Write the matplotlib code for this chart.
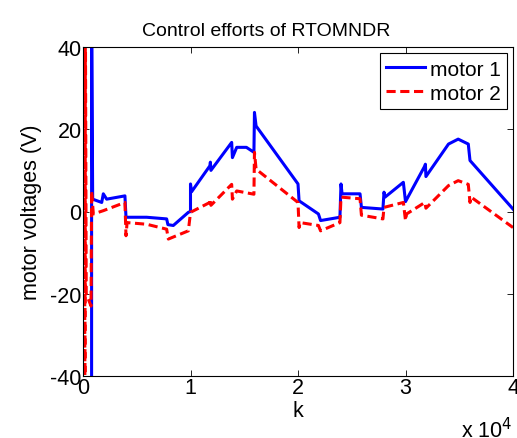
import matplotlib
matplotlib.use("Agg")
import matplotlib.pyplot as plt

plt.rcParams['font.family'] = ['Liberation Sans', 'DejaVu Sans']
plt.rcParams['axes.unicode_minus'] = False

k1 = [0, 800, 800, 900, 1740, 1890, 2200, 3900, 4000, 5920, 7780, 7900, 8400, 9800, 10000, 10000, 10100,
      11800, 11850, 11900, 13830, 13900, 14300, 15200, 15900, 15950, 16100,
      20000, 20100, 21900, 22100, 23900, 24000, 24100, 25770, 25900, 27900, 28000, 28100,
      29800, 30000, 31800, 31850, 31900, 34000, 34900, 35840, 36000, 40000]
m1 = [-50, -50, 50, 3.0, 2.2, 4.3, 3.0, 3.8, -1.4, -1.4, -1.8, -3.2, -3.4, -0.2, 0, 6.7, 4.8,
      11.1, 12.0, 10.0, 16.8, 13.1, 15.6, 15.6, 14.4, 24.1, 20.8,
      6.7, 2.6, -0.6, -2.2, -1.4, 6.7, 4.3, 4.3, 1.0, 0.6, 4.7, 3.5,
      7.1, 2.4, 11.1, 11.5, 8.5, 16.4, 17.6, 16.4, 12.4, 0.6]

k2 = [0, 60, 120, 180, 220, 300, 750, 800, 960, 1890, 3900, 4000, 4100, 5920, 7780, 7940, 9800, 10000,
      11800, 11850, 11900, 13830, 13900, 14300, 15900, 15950, 16100,
      20000, 20100, 20200, 21900, 22100, 23900, 24000, 25770, 25900, 27900, 28000,
      29800, 30000, 30100, 31800, 31900, 34000, 34900, 35840, 36000, 36100, 40000]
m2 = [50, -50, 50, -50, 50, -20, -23, 5, -0.6, 0.2, 2.2, -5.9, -2.7, -3.1, -4.3, -6.7, -4.7, -0.2,
      2.2, 3.0, 1.5, 6.6, 3.0, 5.0, 4.2, 14.4, 10.3,
      2.2, -3.9, -2.7, -3.4, -4.7, -2.7, 3.5, 3.1, -0.9, -1.8, 1.0,
      2.2, -2.2, -0.6, 2.2, 0.8, 6.3, 7.5, 6.6, 2.2, 3.5, -3.9]

fig = plt.figure(figsize=(5.17, 4.39), dpi=100)
ax = fig.add_axes([83/517, 1 - 377/439, 430/517, 329/439])
ax.plot(k1, m1, color='#0000ff', lw=2.2, label='motor 1')
ax.plot(k2, m2, color='#ff0000', lw=2.2, ls=(0, (3, 1.5)), label='motor 2')
ax.set_xlim(0, 40000)
ax.set_ylim(-40, 40)
ax.set_xticks([0, 10000, 20000, 30000, 40000])
ax.set_xticklabels(['0', '1', '2', '3', '4'])
ax.set_yticks([-40, -20, 0, 20, 40])
ax.tick_params(direction='in', top=True, right=True, labelsize=15.5, length=4, width=0.6, pad=1)
for s in ax.spines.values():
    s.set_linewidth(0.8)
ax.set_xlabel('k', fontsize=15.5, labelpad=1)
ax.set_ylabel('motor voltages (V)', fontsize=15.5, labelpad=6)
ax.set_title('Control efforts of RTOMNDR', fontsize=14, pad=9, x=0.426)
fig.text(461/517, 1 - 431/439, r'x 10$^{4}$', fontsize=15.5, ha='left', va='center')
leg = ax.legend(loc='upper right', fontsize=15, frameon=True, fancybox=False,
                edgecolor='black', framealpha=1, borderaxespad=0.3, handlelength=1.9,
                handletextpad=0.2, borderpad=0.3, labelspacing=0.25)
leg.get_frame().set_linewidth(0.8)
fig.savefig('out.png', dpi=100)
